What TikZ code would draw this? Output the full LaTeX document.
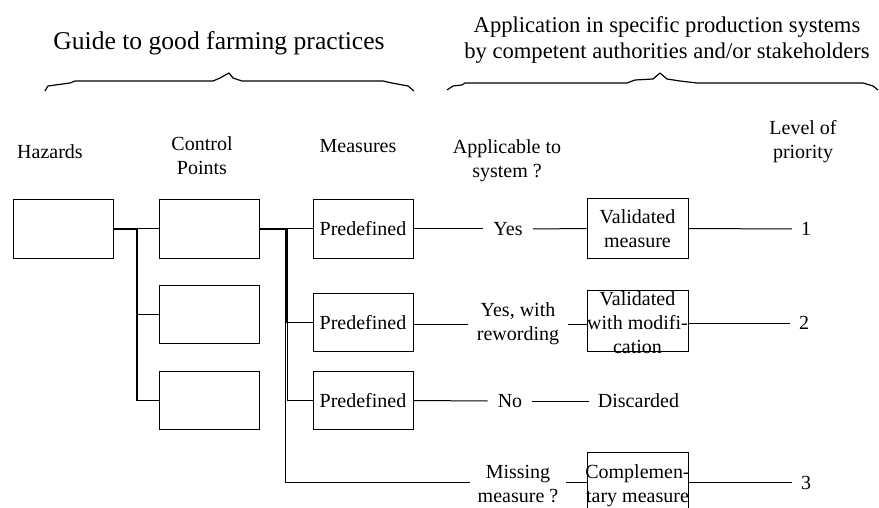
\documentclass[tikz,border=0pt]{standalone}
\usepackage{fontspec}
\setmainfont{Liberation Serif}
\begin{document}
\begin{tikzpicture}[x=1pt,y=-1pt,
  every node/.style={font=\fontsize{20}{24}\selectfont, inner sep=0pt, align=center},
  box/.style={draw, line width=1pt, minimum width=100pt, minimum height=58pt},
  wire/.style={line width=1pt},
  fatwire/.style={line width=2pt},
  brace/.style={line width=1.2pt, line join=round},
  lbl/.style={inner xsep=10pt}]
\path[use as bounding box, clip] (0,0) rectangle (879,508);

% headings
\node (guide) at (219,43) [font=\fontsize{25.6}{30}\selectfont] {Guide to good farming practices};
\node (appl) at (667,40) [font=\fontsize{22.6}{26}\selectfont] {Application in specific production systems\\by competent authorities and/or stakeholders};

\draw[brace] (45,91) -- (48,86) -- (70,83) -- (75,81) -- (213,81) -- (220,78) -- (229,73) -- (233,78) -- (242,81) -- (383,81) -- (392,83) -- (408,86) -- (414,91);
\draw[brace] (447,90) -- (453,86) -- (462,85) -- (465,83) -- (627,83) -- (635,80) -- (653,79) -- (660,73) -- (667,79) -- (680,81) -- (697,83) -- (863,83) -- (873,86) -- (878,90);

% column titles
\node (thaz) at (50,152) {Hazards};
\node (tcp) at (202,156) {Control\\Points};
\node (tmeas) at (358,146) {Measures};
\node (tapp) at (507,161) {Applicable to\\system ?};
\node (tlev) at (803,142) {Level of\\priority};

% boxes
\node[box] (haz) at (63,229) {};
\node[box] (cp1) at (209,229) {};
\node[box] (cp2) at (209,314) {};
\node[box] (cp3) at (209,400.5) {};
\node[box] (m1) at (363,229) {Predefined};
\node[box] (m2) at (363,322.5) {Predefined};
\node[box] (m3) at (363,400.5) {Predefined};
\node[box, minimum width=101pt, minimum height=59pt] (v1) at (637.5,228.5) {Validated\\measure};
\node[box, minimum width=101pt, minimum height=61pt] (v2) at (637.5,320.5) {};
\node (v2t) at (637.5,323) {Validated\\with modifi-\\cation};
\node[box, minimum width=101pt, minimum height=80pt] (v3) at (637.5,492) {};
\node (v3t) at (637.5,486) {Complemen-\\tary measure};

% labels
\node[lbl] (yes) at (508,229) {Yes};
\node[inner xsep=9pt] (yw) at (518,324) {Yes, with\\rewording};
\node[lbl] (no) at (510,401) {No};
\node[inner xsep=9pt] (disc) at (638.5,401) {Discarded};
\node[inner xsep=8pt] (miss) at (518,484) {Missing\\measure ?};
\node[inner xsep=9pt] (one) at (806,229) {1};
\node[inner xsep=9pt] (two) at (804,323) {2};
\node[inner xsep=9pt] (three) at (806,483) {3};

% tree left
\coordinate (j1) at (137,229);
\coordinate (j1b) at (137,400.5);
\draw[fatwire] (haz.east) -- (j1);
\draw[wire] (j1) -- (cp1.west);
\draw[fatwire] (j1) -- (j1b);
\draw[wire] (j1 |- cp2.west) -- (cp2.west);
\draw[wire] (j1b) -- (cp3.west);

% tree middle
\coordinate (j2) at (286,229);
\coordinate (j2a) at (285,229);
\coordinate (j2b) at (287,229);
\coordinate (j2d) at (285,482);
\draw[fatwire] (cp1.east) -- (j2);
\draw[wire] (j2) -- (m1.west);
\draw[wire] (j2a) -- (j2d);
\draw[wire] (j2b) -- (j2b |- m3.west);
\draw[line width=2.5pt] (j2) -- (j2 |- m2.west);
\draw[wire] (j2b |- m2.west) -- (m2.west);
\draw[wire] (j2b |- m3.west) -- (m3.west);
\draw[wire] (j2d) -- (j2d -| miss.west);

% right rows
\draw[wire] (m1.east) -- (yes.west);
\draw[wire] (yes.east) -- (v1.west);
\draw[wire] (v1.east) -- (one.west);
\draw[wire] (m2.east |- yw.west) -- (yw.west);
\draw[wire] (yw.east) -- (yw.east -| v2.west);
\draw[wire] (two.west -| v2.east) -- (two.west);
\draw[wire] (m3.east) -- (no.west);
\draw[wire] (no.east) -- (disc.west);
\draw[wire] (j2d -| miss.east) -- (j2d -| v3.west);
\draw[wire] (j2d -| v3.east) -- (j2d -| three.west);
\end{tikzpicture}
\end{document}
